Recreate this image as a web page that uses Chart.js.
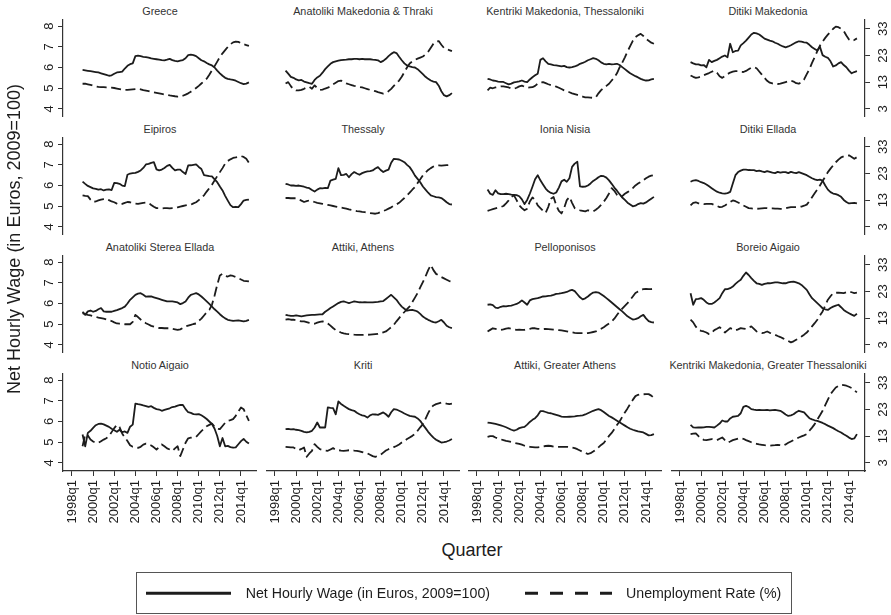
<!DOCTYPE html>
<html>
<head>
<meta charset="utf-8">
<script src="https://cdn.jsdelivr.net/npm/chart.js@4.4.1/dist/chart.umd.min.js"></script>
<style>
  html, body { margin: 0; padding: 0; background: #fff; }
  body { width: 891px; height: 615px; position: relative; overflow: hidden;
         font-family: "Liberation Sans", Arial, Helvetica, sans-serif; color: #1c1c1c; }
  canvas { position: absolute; }
  .ttl { position: absolute; width: 260px; text-align: center; white-space: nowrap;
         font-size: 10.8px; line-height: 10.8px; font-weight: 400; color: #333; }
  .lbl { position: absolute; white-space: nowrap; }
</style>
</head>
<body>
<script>
// Quarterly observations, 1999q1 – 2014q4
const quarters = [
  "1999q1","1999q2","1999q3","1999q4","2000q1","2000q2","2000q3","2000q4",
  "2001q1","2001q2","2001q3","2001q4","2002q1","2002q2","2002q3","2002q4",
  "2003q1","2003q2","2003q3","2003q4","2004q1","2004q2","2004q3","2004q4",
  "2005q1","2005q2","2005q3","2005q4","2006q1","2006q2","2006q3","2006q4",
  "2007q1","2007q2","2007q3","2007q4","2008q1","2008q2","2008q3","2008q4",
  "2009q1","2009q2","2009q3","2009q4","2010q1","2010q2","2010q3","2010q4",
  "2011q1","2011q2","2011q3","2011q4","2012q1","2012q2","2012q3","2012q4",
  "2013q1","2013q2","2013q3","2013q4","2014q1","2014q2","2014q3","2014q4"
];

const xTickYears = [1998, 2000, 2002, 2004, 2006, 2008, 2010, 2012, 2014];
const wageTicks = [4, 5, 6, 7, 8];
const unempTicks = [3, 13, 23, 33];

// Net hourly wage (euros, 2009 prices) and unemployment rate (%) by region
const wageGreece = [
  5.88,5.86,5.84,5.82,5.80,5.78,5.76,5.72, 5.68,5.64,5.60,5.62,5.70,5.76,5.78,5.80,
  5.95,6.08,6.16,6.20,6.55,6.58,6.55,6.52, 6.50,6.48,6.44,6.42,6.40,6.38,6.36,6.35,
  6.38,6.42,6.36,6.32,6.30,6.33,6.36,6.45, 6.60,6.62,6.60,6.55,6.45,6.35,6.30,6.22,
  6.15,6.10,6.00,5.85,5.72,5.60,5.50,5.45, 5.42,5.40,5.36,5.30,5.24,5.20,5.22,5.28];
const unempGreece = [
  12.4,12.4,12.2,12.0,11.7,11.4,11.2,11.1, 11.1,11.0,11.0,10.9,10.8,10.6,10.4,10.2,
  10.1,10.1,10.2,10.3,10.4,10.5,10.3,10.0, 9.8,9.6,9.35,9.2,9.0,8.8,8.6,8.4,
  8.2,8.0,7.85,7.7,7.6,7.6,7.9,8.3, 8.8,9.4,10.0,10.8,11.6,12.5,13.4,14.3,
  15.8,17.4,19.0,20.7,22.4,23.8,25.0,26.2, 27.2,27.9,28.2,28.1,27.6,27.2,26.9,26.6];

const wageAnatMakThraki = [
  5.85,5.70,5.55,5.50,5.42,5.38,5.40,5.32, 5.28,5.24,5.21,5.40,5.52,5.60,5.75,5.92,
  6.05,6.18,6.26,6.30,6.33,6.36,6.37,6.38, 6.40,6.40,6.42,6.42,6.40,6.42,6.40,6.41,
  6.40,6.38,6.37,6.35,6.26,6.32,6.42,6.55, 6.66,6.74,6.70,6.52,6.35,6.20,6.10,6.05,
  6.02,6.00,5.92,5.80,5.68,5.55,5.45,5.37, 5.32,5.29,5.12,4.85,4.66,4.60,4.66,4.76];
const unempAnatMakThraki = [
  12.5,13.0,11.5,10.2,9.9,9.9,10.1,10.5, 11.0,11.2,10.5,11.8,10.8,10.1,10.2,10.6,
  10.9,11.5,12.2,12.8,13.4,13.6,13.0,12.5, 12.2,11.9,11.6,11.4,11.2,11.0,10.7,10.4,
  10.1,9.9,9.6,9.25,9.0,8.7,8.9,9.6, 10.5,11.6,12.6,13.6,15.0,16.8,18.5,20.0,
  20.8,21.3,21.8,22.2,22.6,23.4,24.4,25.9, 27.4,28.2,28.4,27.0,25.8,25.5,25.0,24.6];

const wageKentMakThess = [
  5.45,5.42,5.37,5.35,5.32,5.30,5.30,5.24, 5.18,5.22,5.28,5.30,5.33,5.37,5.32,5.29,
  5.42,5.53,5.62,5.70,6.37,6.45,6.30,6.18, 6.15,6.12,6.10,6.08,6.05,6.08,6.02,6.00,
  6.02,6.05,6.10,6.18,6.22,6.28,6.35,6.40, 6.45,6.42,6.35,6.25,6.18,6.15,6.18,6.15,
  6.16,6.18,6.12,6.02,5.92,5.82,5.72,5.65, 5.58,5.52,5.45,5.40,5.37,5.38,5.42,5.45];
const unempKentMakThess = [
  9.9,10.9,10.7,11.0,11.2,11.4,11.4,11.2, 11.0,10.6,10.5,10.9,11.4,11.7,11.3,10.9,
  11.0,11.1,11.6,12.4,12.9,13.0,12.6,12.2, 11.9,11.7,11.3,10.9,10.4,9.9,9.5,9.2,
  8.8,8.5,8.2,7.9,7.6,7.3,7.3,7.2, 7.1,7.3,8.8,10.0,10.8,11.6,12.4,13.6,
  14.8,16.3,18.5,20.3,22.3,24.5,26.5,28.5, 29.9,30.6,31.1,30.3,29.2,28.5,27.8,27.4];

const wageDitMak = [
  6.26,6.20,6.15,6.15,6.10,6.12,6.01,6.37, 6.26,6.32,6.37,6.45,6.53,6.58,6.50,7.15,
  6.74,6.80,6.82,7.07,7.18,7.30,7.45,7.60, 7.68,7.65,7.60,7.50,7.40,7.35,7.30,7.27,
  7.20,7.15,7.08,7.02,6.98,7.02,7.08,7.15, 7.22,7.27,7.25,7.22,7.20,7.10,6.98,6.90,
  6.82,7.00,6.60,6.52,6.47,6.30,6.05,6.10, 6.20,6.26,6.12,6.01,5.85,5.72,5.78,5.82];
const unempDitMak = [
  15.5,15.0,14.6,14.8,15.1,15.6,16.0,16.4, 16.9,17.3,16.5,15.2,14.6,15.3,16.0,16.6,
  16.9,17.1,17.1,16.9,16.8,17.2,17.8,18.4, 18.6,18.2,17.0,15.8,14.6,13.5,12.8,12.5,
  12.4,12.3,12.4,12.7,13.0,13.3,13.6,13.2, 12.6,12.4,13.0,14.0,16.0,17.8,20.2,22.4,
  24.6,26.7,28.2,29.6,30.8,31.9,33.0,33.8, 33.6,33.0,32.2,30.5,29.0,28.4,28.8,29.4];

const wageEipiros = [
  6.19,6.08,5.98,5.92,5.86,5.84,5.80,5.82, 5.76,5.80,5.81,5.78,6.13,6.12,6.08,6.00,
  5.97,6.52,6.58,6.60,6.61,6.66,6.73,6.85, 7.02,7.05,7.10,7.13,6.78,6.73,6.77,6.85,
  6.95,7.00,6.85,6.73,6.77,6.77,6.65,6.56, 6.97,6.98,7.00,7.02,6.90,6.80,6.50,6.48,
  6.45,6.44,6.30,6.16,5.95,5.76,5.50,5.27, 5.05,4.95,4.97,4.95,5.10,5.27,5.30,5.32];
const unempEipiros = [
  14.8,14.6,14.5,13.2,12.3,12.5,12.9,13.2, 13.4,13.5,13.0,12.5,12.2,11.7,11.3,11.6,
  12.0,12.3,12.2,11.9,11.7,11.6,11.8,12.0, 12.1,12.0,11.2,10.5,10.0,10.0,9.9,10.0,
  10.0,9.9,10.0,10.0,10.3,10.6,10.8,11.0, 11.2,11.3,11.8,12.2,13.0,14.0,14.8,16.2,
  17.5,18.8,20.4,22.0,23.5,25.0,26.7,27.7, 28.3,28.8,29.0,29.3,29.5,29.2,28.5,27.0];

const wageThessaly = [
  6.08,6.05,6.00,6.00,5.98,6.00,5.97,5.94, 5.90,5.87,5.78,5.71,5.80,5.87,5.86,5.88,
  5.87,6.24,6.28,6.32,6.84,6.50,6.52,6.56, 6.40,6.55,6.65,6.58,6.52,6.60,6.65,6.68,
  6.70,6.73,6.82,6.89,6.75,6.65,6.72,6.77, 7.10,7.29,7.28,7.26,7.20,7.13,7.00,6.89,
  6.70,6.48,6.32,6.16,5.95,5.80,5.65,5.52, 5.48,5.44,5.42,5.39,5.30,5.19,5.10,5.08];
const unempThessaly = [
  13.8,13.8,13.7,13.7,13.7,13.3,12.8,12.3, 12.6,12.9,12.6,12.3,12.0,11.8,11.6,11.4,
  11.2,11.0,10.8,10.6,10.4,10.2,10.0,9.8, 9.5,9.3,9.1,8.9,8.8,8.6,8.5,8.3,
  8.1,8.0,7.9,8.1,8.5,8.9,9.3,9.8, 10.3,10.9,11.4,12.0,12.9,13.8,14.8,15.8,
  16.9,17.9,19.4,20.8,22.3,23.3,24.3,25.0, 25.6,26.0,26.0,25.9,26.0,26.1,26.2,26.3];

const wageIoniaNisia = [
  5.81,5.60,5.55,5.77,5.62,5.58,5.58,5.60, 5.58,5.56,5.55,5.53,5.48,5.33,5.10,5.30,
  5.60,5.94,6.30,6.50,6.25,6.05,5.85,5.72, 5.64,5.60,5.66,5.90,6.20,6.28,6.18,6.35,
  6.90,7.06,7.15,5.96,5.94,5.95,6.00,6.10, 6.22,6.30,6.40,6.47,6.45,6.38,6.25,6.08,
  5.90,5.75,5.58,5.42,5.30,5.17,5.08,4.99, 5.02,5.10,5.15,5.12,5.18,5.27,5.36,5.45];
const unempIoniaNisia = [
  9.0,9.3,9.6,9.9,10.2,10.4,10.8,11.8, 12.9,14.2,14.8,13.0,11.0,10.0,9.2,9.8,
  12.5,14.0,13.0,11.0,10.0,9.0,8.2,10.5, 13.5,14.2,11.0,9.0,8.0,10.0,13.0,14.2,
  12.0,10.0,9.5,9.2,9.0,8.8,9.2,9.0, 8.8,9.4,10.2,11.2,12.4,13.8,15.5,17.5,
  16.5,15.0,14.0,14.5,15.4,16.0,16.6,17.5, 18.5,19.2,19.8,20.5,21.2,21.8,22.2,22.4];

const wageDitEllada = [
  6.18,6.24,6.26,6.22,6.16,6.12,6.05,5.96, 5.87,5.78,5.70,5.65,5.62,5.61,5.63,5.69,
  6.10,6.50,6.65,6.72,6.77,6.77,6.75,6.74, 6.74,6.70,6.72,6.68,6.65,6.70,6.66,6.62,
  6.60,6.66,6.62,6.65,6.65,6.60,6.66,6.62, 6.60,6.65,6.60,6.55,6.50,6.42,6.35,6.30,
  6.26,6.28,6.24,6.00,5.80,5.68,5.61,5.58, 5.53,5.45,5.30,5.20,5.13,5.15,5.16,5.13];
const unempDitEllada = [
  11.0,12.0,12.2,11.8,11.6,11.5,11.6,11.6, 11.6,11.2,10.8,10.4,10.5,11.0,11.6,12.3,
  12.9,12.6,12.1,11.6,11.0,10.5,10.0,9.9, 9.8,9.75,9.8,9.9,10.0,10.0,9.9,9.9,
  9.8,9.8,9.7,9.75,9.9,10.2,10.4,10.4, 10.4,10.4,10.6,10.9,11.3,12.6,14.1,15.6,
  17.0,18.5,20.2,21.8,23.5,24.8,26.0,27.2, 28.2,29.0,29.4,29.6,29.8,29.2,28.5,29.1];

const wageAnatSterea = [
  5.60,5.45,5.62,5.66,5.60,5.64,5.72,5.78, 5.62,5.60,5.61,5.60,5.64,5.68,5.73,5.78,
  5.85,6.00,6.18,6.30,6.42,6.48,6.50,6.42, 6.33,6.35,6.34,6.30,6.26,6.22,6.18,6.14,
  6.10,6.10,6.10,6.08,6.05,5.97,6.02,6.10, 6.28,6.42,6.46,6.50,6.44,6.34,6.22,6.10,
  5.98,5.85,5.72,5.61,5.48,5.37,5.28,5.21, 5.18,5.16,5.17,5.18,5.16,5.13,5.16,5.21];
const unempAnatSterea = [
  14.9,14.5,14.2,14.0,13.8,13.5,13.2,13.0, 12.8,12.5,12.2,11.9,11.4,11.0,10.9,10.8,
  10.7,10.7,10.7,11.6,14.2,13.4,12.5,11.7, 11.1,10.6,10.1,9.8,9.5,9.3,9.3,9.2,
  9.2,9.2,9.0,8.8,8.6,8.8,9.3,9.9, 10.2,10.5,10.8,11.0,12.0,12.8,14.0,15.2,
  16.1,18.0,21.5,25.5,29.0,29.6,28.8,28.6, 29.0,28.8,28.4,28.0,27.5,27.0,26.9,26.8];

const wageAthens = [
  5.45,5.42,5.40,5.40,5.42,5.40,5.38,5.40, 5.42,5.44,5.45,5.45,5.46,5.47,5.48,5.60,
  5.69,5.78,5.86,5.94,6.02,6.08,6.10,6.06, 6.02,6.06,6.10,6.08,6.06,6.05,6.06,6.05,
  6.05,6.05,6.07,6.08,6.10,6.12,6.22,6.32, 6.42,6.30,6.18,6.00,5.85,5.75,5.65,5.68,
  5.69,5.66,5.61,5.50,5.37,5.28,5.21,5.15, 5.10,5.08,5.14,5.21,5.08,4.92,4.85,4.81];
const unempAthens = [
  12.4,12.6,12.4,12.4,12.2,12.0,11.8,11.75, 11.5,11.2,11.0,10.9,11.3,11.6,11.75,11.5,
  11.0,10.2,9.3,8.5,8.0,7.6,7.3,7.1, 7.0,6.9,6.8,6.75,6.75,6.7,6.75,6.75,
  6.8,6.9,7.0,7.1,7.4,7.7,8.0,8.8, 9.6,10.5,11.8,13.0,14.25,15.3,16.4,17.4,
  19.0,20.7,22.4,24.5,26.5,28.6,31.0,32.9, 31.0,29.6,29.0,28.4,27.9,27.4,26.9,26.6];

const wagePeloponnisos = [
  5.94,5.96,5.92,5.80,5.78,5.84,5.87,5.86, 5.89,5.90,5.94,5.98,6.05,6.15,6.05,5.94,
  6.15,6.21,6.24,6.26,6.30,6.34,6.35,6.37, 6.38,6.42,6.47,6.48,6.50,6.53,6.56,6.62,
  6.66,6.60,6.45,6.30,6.20,6.25,6.34,6.45, 6.53,6.55,6.53,6.45,6.36,6.26,6.16,6.05,
  5.94,5.83,5.72,5.62,5.50,5.38,5.30,5.22, 5.24,5.29,5.38,5.45,5.28,5.15,5.10,5.08];
const unempPeloponnisos = [
  8.0,8.6,9.2,9.0,8.8,8.6,8.8,9.1, 9.25,9.0,8.8,8.6,8.7,8.6,8.6,8.8,
  9.0,9.25,9.2,9.0,8.9,8.9,9.0,8.9, 8.8,8.7,8.6,8.5,8.4,8.2,8.0,7.8,
  7.7,7.5,7.4,7.4,7.4,7.3,7.4,7.6, 7.8,8.0,8.5,9.0,9.6,10.3,11.0,11.75,
  12.8,14.2,15.5,16.6,17.6,18.6,19.8,21.1, 22.4,23.0,23.4,23.9,24.0,23.9,23.9,24.0];

const wageBoreioAigaio = [
  6.50,5.94,6.21,6.22,6.26,6.18,6.05,5.98, 5.98,6.05,6.15,6.26,6.50,6.69,6.70,6.74,
  6.82,6.95,7.06,7.15,7.34,7.50,7.38,7.23, 7.10,6.98,6.95,6.90,6.95,6.98,6.98,7.00,
  7.02,7.02,7.00,6.98,6.98,7.02,7.05,7.06, 7.02,6.98,6.90,6.78,6.66,6.45,6.26,6.14,
  6.02,5.90,5.77,5.72,5.69,5.78,5.85,5.90, 5.94,5.82,5.69,5.60,5.53,5.46,5.40,5.50];
const unempBoreioAigaio = [
  12.4,11.4,9.8,8.6,8.2,8.0,7.6,7.0, 7.5,8.5,9.0,9.6,8.8,7.6,8.4,9.25,
  8.8,8.4,8.8,9.25,9.1,8.9,9.4,9.9, 9.0,8.0,7.6,7.4,7.6,8.0,7.5,7.1,
  6.75,6.3,5.9,5.4,4.9,4.4,3.9,4.3, 4.9,5.5,6.1,6.8,7.6,8.7,9.9,11.1,
  12.4,14.0,15.5,17.7,19.9,21.2,22.4,22.5, 22.6,22.5,22.4,22.7,23.0,22.7,22.4,22.6];

const wageNotioAigaio = [
  5.37,4.80,5.45,5.55,5.69,5.82,5.88,5.90, 5.86,5.80,5.74,5.65,5.58,5.50,5.60,5.48,
  5.52,5.45,5.75,5.85,6.87,6.84,6.82,6.78, 6.75,6.71,6.74,6.66,6.60,6.58,6.52,6.56,
  6.60,6.64,6.70,6.72,6.77,6.80,6.80,6.60, 6.45,6.42,6.36,6.34,6.36,6.30,6.22,6.12,
  6.00,5.88,5.65,5.30,4.80,5.20,4.80,4.82, 4.76,4.73,4.75,4.90,5.05,5.16,5.02,4.93];
const unempNotioAigaio = [
  9.2,13.6,13.2,11.7,11.0,10.5,10.5,11.1, 11.7,12.2,13.0,14.5,16.0,17.2,16.4,14.0,
  12.5,11.2,9.6,9.0,8.8,8.6,9.0,9.8, 10.2,9.9,9.5,8.8,8.0,8.9,9.9,9.2,
  8.4,8.0,7.4,8.4,9.2,5.5,8.0,10.5, 12.2,12.4,12.6,12.7,13.8,14.9,15.8,16.7,
  17.2,17.7,16.5,15.8,15.6,16.8,18.0,18.75, 19.0,19.4,20.6,22.2,23.75,23.1,20.8,18.75];

const wageKriti = [
  5.63,5.64,5.62,5.63,5.60,5.58,5.55,5.50, 5.47,5.50,5.55,5.71,5.95,5.71,5.72,5.71,
  6.68,6.66,6.65,6.35,6.97,6.85,6.76,6.68, 6.60,6.55,6.52,6.42,6.35,6.30,6.27,6.19,
  6.30,6.35,6.34,6.32,6.38,6.44,6.35,6.23, 6.45,6.60,6.58,6.52,6.46,6.39,6.33,6.27,
  6.25,6.23,6.15,6.03,5.85,5.68,5.50,5.35, 5.22,5.12,5.05,4.98,5.00,5.03,5.08,5.15];
const unempKriti = [
  9.0,8.9,8.8,8.75,8.2,7.75,8.2,8.75, 5.25,6.5,7.5,10.0,9.0,8.1,7.8,7.6,
  7.5,8.0,8.5,7.9,7.75,7.6,7.5,7.6, 7.7,7.75,7.6,7.5,7.3,7.0,6.7,6.5,
  6.0,5.5,5.25,5.6,6.0,6.8,7.6,8.1, 8.5,8.9,9.3,9.9,10.6,11.2,11.9,12.5,
  13.1,13.75,15.0,16.3,17.5,19.5,21.6,23.5, 24.5,25.0,25.3,25.6,25.5,25.2,25.0,25.2];

const wageGreaterAthens = [
  5.95,5.93,5.91,5.88,5.85,5.81,5.77,5.72, 5.66,5.60,5.56,5.60,5.68,5.72,5.74,5.85,
  5.98,6.08,6.16,6.30,6.50,6.50,6.46,6.42, 6.40,6.36,6.32,6.28,6.24,6.22,6.22,6.23,
  6.24,6.25,6.27,6.28,6.30,6.34,6.40,6.46, 6.52,6.56,6.60,6.55,6.46,6.36,6.27,6.20,
  6.12,6.04,5.96,5.88,5.80,5.72,5.65,5.60, 5.56,5.52,5.50,5.47,5.40,5.33,5.34,5.39];
const unempGreaterAthens = [
  12.75,13.0,13.0,12.5,12.1,11.8,11.5,11.2, 11.0,10.8,10.5,10.3,10.1,9.8,9.4,9.1,
  9.0,8.9,8.8,8.75,8.9,9.1,9.3,9.4, 9.3,9.1,9.0,9.0,9.0,9.0,9.0,8.9,
  8.7,8.5,8.1,7.6,7.1,6.7,6.3,6.6, 7.2,7.9,8.8,9.7,10.4,11.7,13.1,14.2,
  15.6,17.2,18.5,20.2,21.9,23.4,25.0,26.6, 28.0,28.5,28.75,28.7,28.75,28.75,28.2,27.3];

const wageGreaterThess = [
  5.84,5.72,5.70,5.72,5.71,5.72,5.74,5.74, 5.73,5.71,5.80,5.90,6.05,6.00,6.00,6.15,
  6.23,6.25,6.27,6.40,6.71,6.76,6.70,6.60, 6.57,6.55,6.56,6.55,6.55,6.56,6.54,6.55,
  6.56,6.54,6.52,6.44,6.34,6.27,6.30,6.35, 6.45,6.52,6.48,6.44,6.30,6.16,6.10,6.06,
  6.03,5.98,5.93,5.87,5.80,5.74,5.68,5.60, 5.53,5.47,5.38,5.31,5.22,5.15,5.18,5.39];
const unempGreaterThess = [
  13.75,13.9,14.0,13.0,12.2,11.6,11.5,11.7, 11.9,11.7,11.5,12.0,12.5,11.5,10.6,11.0,
  11.5,11.8,12.1,12.25,12.0,11.5,11.1,10.7, 10.3,10.1,9.9,9.75,9.6,9.5,9.4,9.5,
  9.6,9.75,9.6,9.4,9.9,10.5,11.0,11.5, 12.0,12.5,12.9,13.3,13.75,15.0,16.2,17.5,
  19.2,20.8,22.5,24.6,26.7,28.75,30.0,31.25, 31.8,32.25,32.1,31.9,31.5,31.0,30.2,29.4];

const panels = [
  { title: "Greece", wage: wageGreece, unemp: unempGreece },
  { title: "Anatoliki Makedonia & Thraki", wage: wageAnatMakThraki, unemp: unempAnatMakThraki },
  { title: "Kentriki Makedonia, Thessaloniki", wage: wageKentMakThess, unemp: unempKentMakThess },
  { title: "Ditiki Makedonia", wage: wageDitMak, unemp: unempDitMak },
  { title: "Eipiros", wage: wageEipiros, unemp: unempEipiros },
  { title: "Thessaly", wage: wageThessaly, unemp: unempThessaly },
  { title: "Ionia Nisia", wage: wageIoniaNisia, unemp: unempIoniaNisia },
  { title: "Ditiki Ellada", wage: wageDitEllada, unemp: unempDitEllada },
  { title: "Anatoliki Sterea Ellada", wage: wageAnatSterea, unemp: unempAnatSterea },
  { title: "Attiki, Athens", wage: wageAthens, unemp: unempAthens },
  { title: "Pelloponisos", wage: wagePeloponnisos, unemp: unempPeloponnisos },
  { title: "Boreio Aigaio", wage: wageBoreioAigaio, unemp: unempBoreioAigaio },
  { title: "Notio Aigaio", wage: wageNotioAigaio, unemp: unempNotioAigaio },
  { title: "Kriti", wage: wageKriti, unemp: unempKriti },
  { title: "Attiki, Greater Athens", wage: wageGreaterAthens, unemp: unempGreaterAthens },
  { title: "Kentriki Makedonia, Greater Thessaloniki", wage: wageGreaterThess, unemp: unempGreaterThess }
];

// ---- layout of the 4 x 4 grid ----
const FONT = '"Liberation Sans", Arial, Helvetica, sans-serif';
const INK = '#1c1c1c';
const AXIS = '#333333';
const colLeft = [63, 266, 468, 671];
const rowTop = [19, 137, 255, 373];
const PW = 194, PH = 98;
const X_MIN = 1997.148, X_MAX = 2015.515;
const WAGE_MIN = 3.603, WAGE_MAX = 8.349;
const UNEMP_MIN = -0.075, UNEMP_MAX = 36.67;

const toYear = q => parseInt(q.slice(0, 4), 10) + (parseInt(q.slice(5), 10) - 1) / 4;

function fixedSize(prop, size) {
  return s => {
    s[prop] = size;
    s.paddingLeft = 0; s.paddingRight = 0; s.paddingTop = 0; s.paddingBottom = 0;
  };
}
const setTicks = vals => s => { s.ticks = vals.map(v => ({ value: v })); };

// vertical-axis tick labels, turned to read bottom-to-top
const rotatedYLabels = {
  id: 'rotatedYLabels',
  afterDraw(chart) {
    const ctx = chart.ctx;
    const area = chart.chartArea;
    [['y', area.left - 13.5], ['y2', area.right + 18.5]].forEach(([id, x]) => {
      const sc = chart.scales[id];
      if (!sc || !sc.options.display) return;
      ctx.save();
      ctx.fillStyle = INK;
      ctx.font = '13px ' + FONT;
      ctx.textAlign = 'center';
      ctx.textBaseline = 'middle';
      sc.ticks.forEach(t => {
        const y = sc.getPixelForValue(t.value);
        ctx.save();
        ctx.translate(x, y);
        ctx.rotate(-Math.PI / 2);
        ctx.fillText(String(t.value), 0, 0);
        ctx.restore();
      });
      ctx.restore();
    });
  }
};

Chart.defaults.font.family = FONT;

const yScale = (pos, min, max, show, width, ticks) => ({
  type: 'linear', position: pos, min, max,
  display: show,
  afterFit: fixedSize('width', width),
  afterBuildTicks: setTicks(ticks),
  ticks: { display: false },
  grid: { drawOnChartArea: false, drawTicks: true, tickLength: 5, color: AXIS, lineWidth: 1 },
  border: { display: true, color: AXIS, width: 1.2 }
});

panels.forEach((p, k) => {
  const r = Math.floor(k / 4), c = k % 4;
  const ml = c === 0 ? 40 : 0;
  const mr = c === 3 ? 26 : 0;
  const mb = r === 3 ? 62 : 0;

  const cv = document.createElement('canvas');
  cv.width = ml + PW + mr;
  cv.height = PH + mb;
  cv.style.left = (colLeft[c] - ml) + 'px';
  cv.style.top = rowTop[r] + 'px';
  document.body.appendChild(cv);

  const t = document.createElement('div');
  t.className = 'ttl';
  t.textContent = p.title;
  t.style.left = (colLeft[c] + PW / 2 - 130) + 'px';
  t.style.top = (rowTop[r] - 13.1) + 'px';
  document.body.appendChild(t);

  new Chart(cv, {
    type: 'line',
    data: {
      datasets: [
        {
          label: 'Net Hourly Wage (in Euros, 2009=100)',
          data: quarters.map((q, i) => ({ x: toYear(q), y: p.wage[i] })),
          yAxisID: 'y',
          borderColor: INK, borderWidth: 1.8,
          pointRadius: 0, tension: 0, fill: false,
          borderJoinStyle: 'round'
        },
        {
          label: 'Unemployment Rate (%)',
          data: quarters.map((q, i) => ({ x: toYear(q), y: p.unemp[i] })),
          yAxisID: 'y2',
          borderColor: INK, borderWidth: 1.8,
          borderDash: [10, 4.5],
          pointRadius: 0, tension: 0, fill: false,
          borderJoinStyle: 'round'
        }
      ]
    },
    plugins: [rotatedYLabels],
    options: {
      responsive: false,
      animation: false,
      devicePixelRatio: 1,
      layout: { padding: 0, autoPadding: false },
      events: [],
      plugins: { legend: { display: false }, tooltip: { enabled: false }, title: { display: false } },
      scales: {
        x: {
          type: 'linear', position: 'bottom',
          min: X_MIN, max: X_MAX,
          display: r === 3,
          afterFit: fixedSize('height', mb),
          afterBuildTicks: setTicks(xTickYears),
          ticks: {
            autoSkip: false, minRotation: 90, maxRotation: 90, padding: 4,
            color: INK, font: { family: FONT, size: 13 },
            callback: v => v + 'q1'
          },
          grid: { drawOnChartArea: false, drawTicks: true, tickLength: 5, color: AXIS, lineWidth: 1 },
          border: { display: true, color: AXIS, width: 1.2 }
        },
        y: yScale('left', WAGE_MIN, WAGE_MAX, c === 0, ml, wageTicks),
        y2: yScale('right', UNEMP_MIN, UNEMP_MAX, c === 3, mr, unempTicks)
      }
    }
  });
});

// ---- shared axis titles ----
function addLabel(text, css) {
  const d = document.createElement('div');
  d.className = 'lbl';
  d.textContent = text;
  Object.assign(d.style, css);
  document.body.appendChild(d);
  return d;
}
addLabel('Net Hourly Wage (in Euros, 2009=100)', {
  left: (14 - 250) + 'px', top: (239 - 9) + 'px', width: '500px', height: '18px',
  fontSize: '18px', lineHeight: '18px', textAlign: 'center', transform: 'rotate(-90deg)'
});
addLabel('Quarter', {
  left: (472 - 100) + 'px', top: '540.8px', width: '200px',
  fontSize: '18px', lineHeight: '18px', textAlign: 'center'
});

// ---- legend ----
const lg = document.createElement('div');
Object.assign(lg.style, {
  position: 'absolute', left: '136px', top: '572px', width: '656px', height: '42px',
  border: '1px solid #555', boxSizing: 'border-box'
});
document.body.appendChild(lg);

const svgNS = 'http://www.w3.org/2000/svg';
const svg = document.createElementNS(svgNS, 'svg');
svg.setAttribute('width', '891');
svg.setAttribute('height', '615');
Object.assign(svg.style, { position: 'absolute', left: '0', top: '0' });
[[146, 231, null], [525, 612, '13 12']].forEach(([x1, x2, dash]) => {
  const ln = document.createElementNS(svgNS, 'line');
  ln.setAttribute('x1', x1); ln.setAttribute('x2', x2);
  ln.setAttribute('y1', 593.3); ln.setAttribute('y2', 593.3);
  ln.setAttribute('stroke', INK); ln.setAttribute('stroke-width', 3);
  if (dash) ln.setAttribute('stroke-dasharray', dash);
  svg.appendChild(ln);
});
document.body.appendChild(svg);

addLabel('Net Hourly Wage (in Euros, 2009=100)', {
  left: '245.7px', top: '586.3px', fontSize: '14.2px', lineHeight: '14.2px'
});
addLabel('Unemployment Rate (%)', {
  left: '626px', top: '586.3px', fontSize: '14.2px', lineHeight: '14.2px'
});
</script>
</body>
</html>
